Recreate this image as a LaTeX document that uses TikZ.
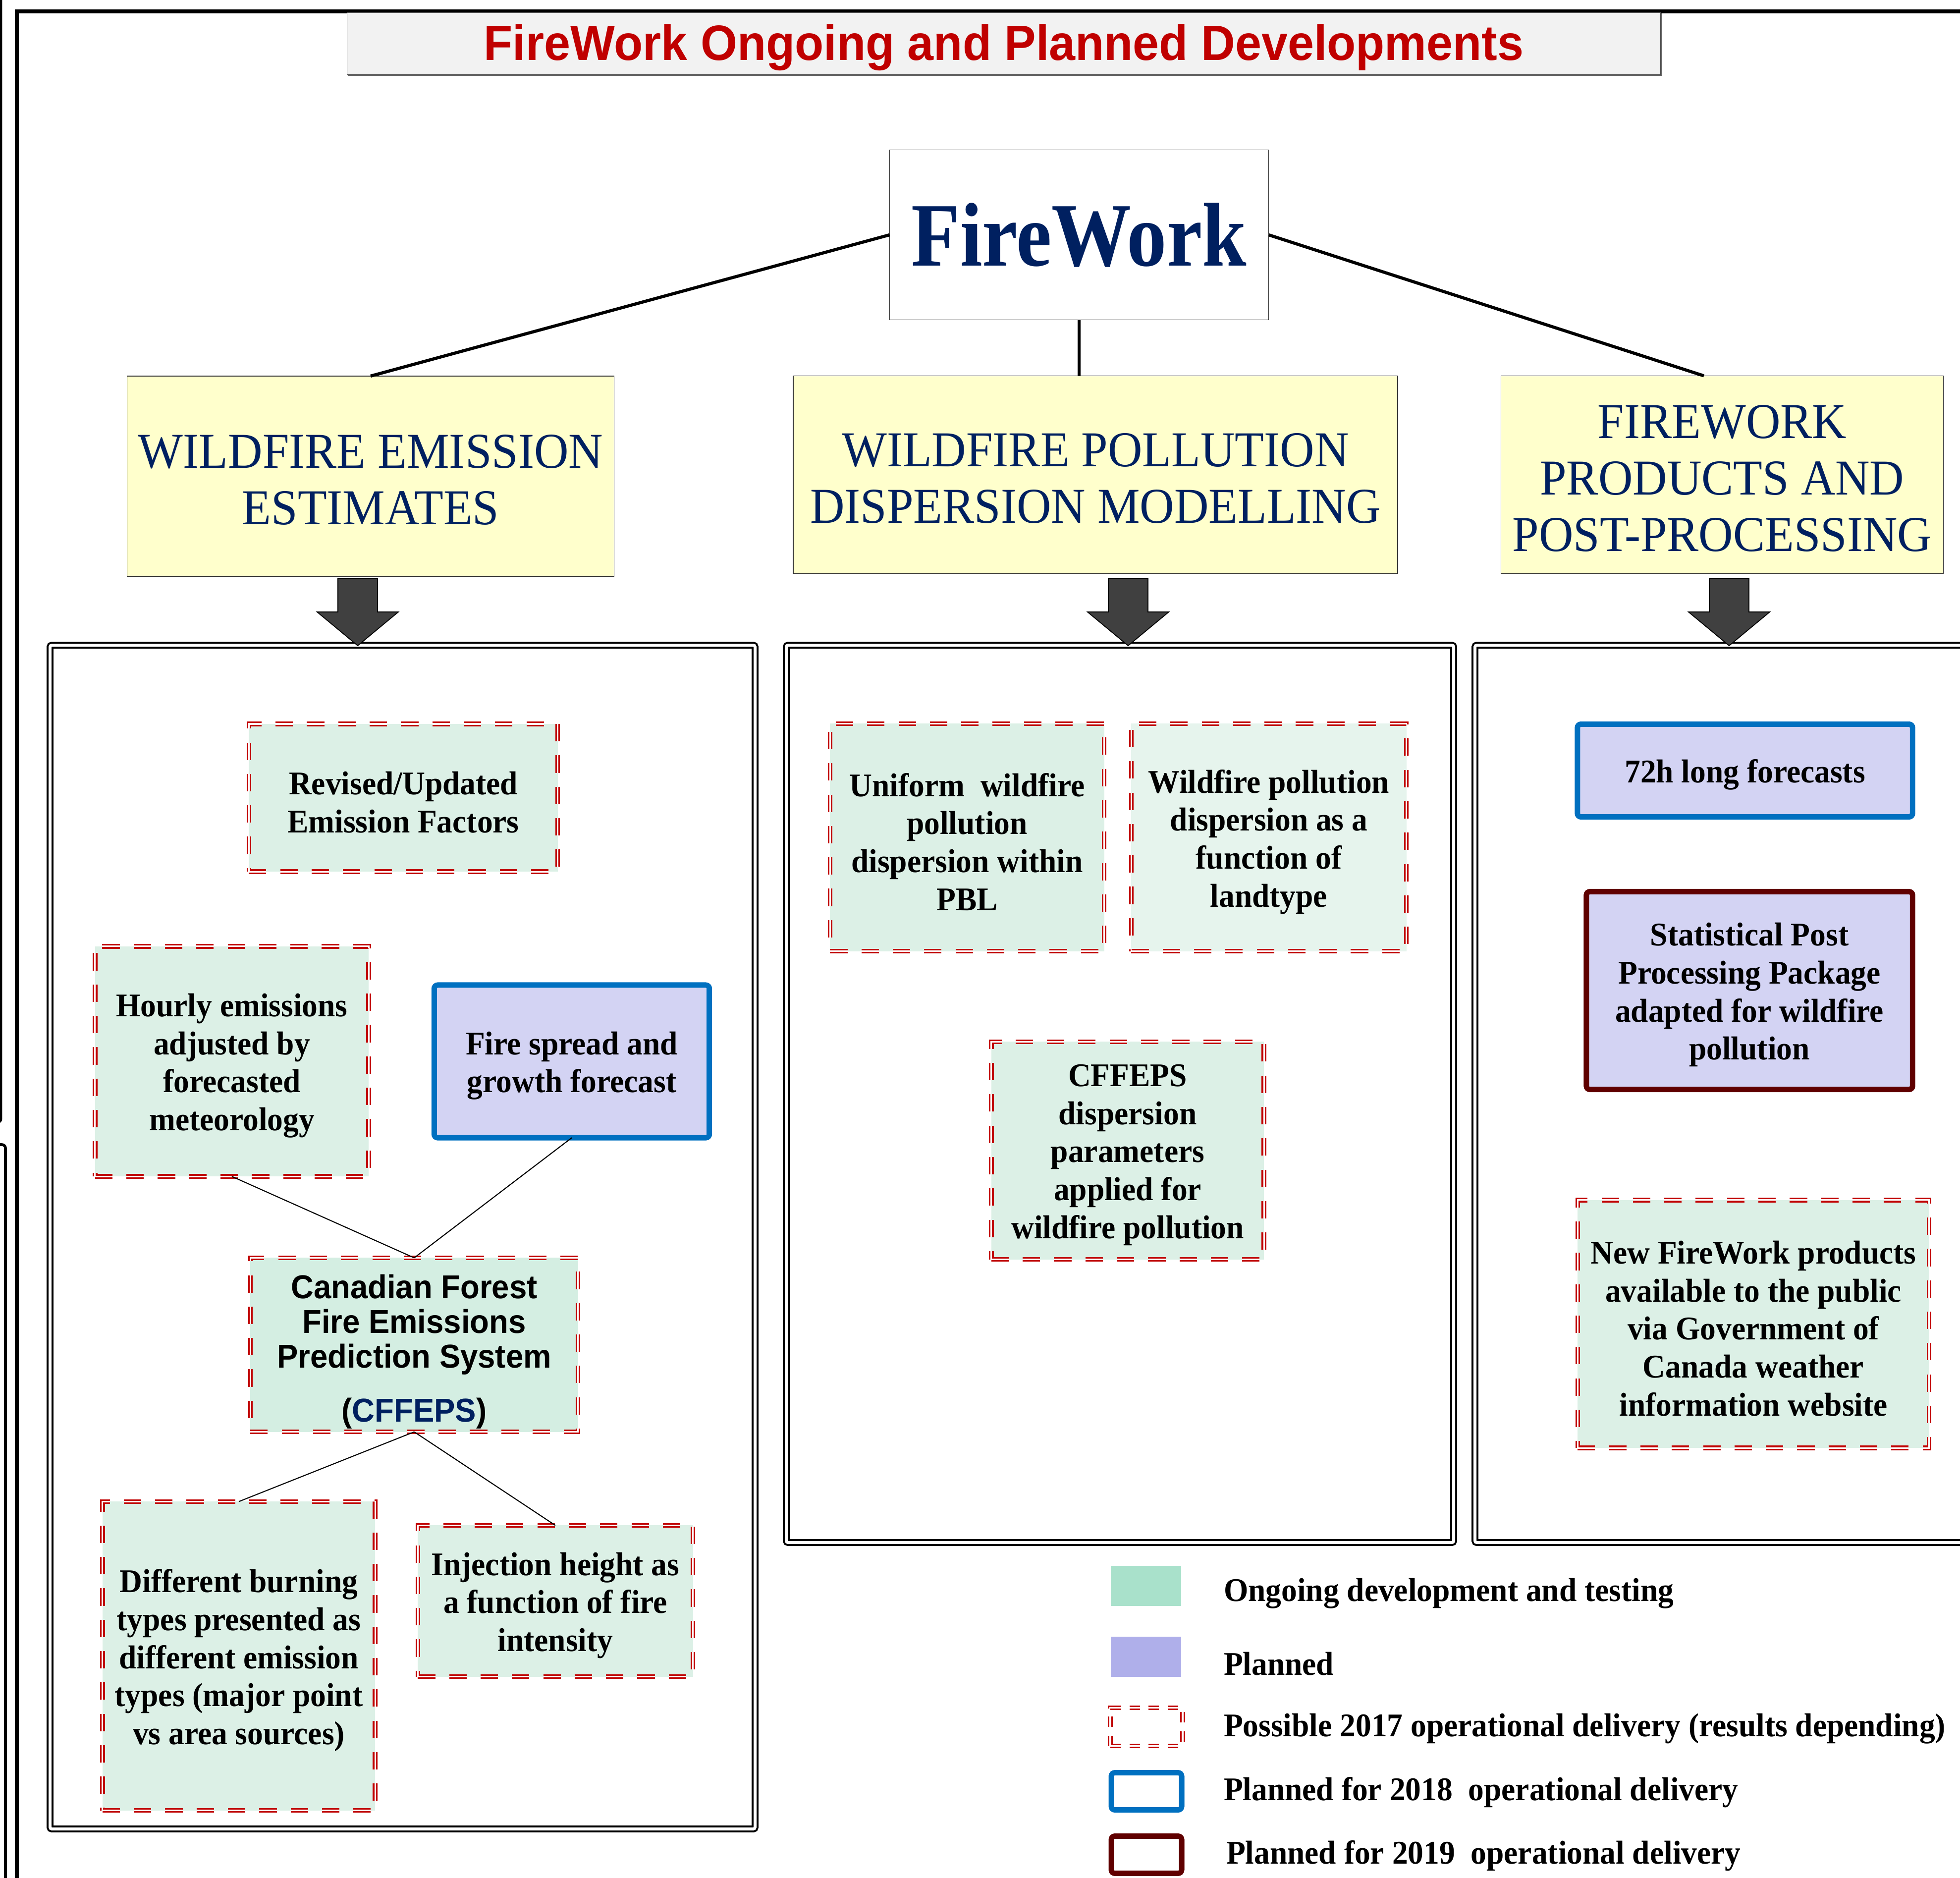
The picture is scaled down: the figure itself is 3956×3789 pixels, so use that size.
\documentclass[tikz,border=0pt]{standalone}
\usepackage{fontspec}
\setmainfont{Liberation Serif}[FakeStretch=0.95]
\setsansfont{Liberation Sans}[FakeStretch=0.95]
\newfontfamily\narrowserif{Liberation Serif}[FakeStretch=0.88]
\usetikzlibrary{shadows}

\definecolor{navy}{HTML}{002060}
\definecolor{firered}{HTML}{C00000}
\definecolor{yellowbg}{HTML}{FFFFCC}
\definecolor{greenbg}{HTML}{DCF0E6}
\definecolor{lavbg}{HTML}{D3D3F3}
\definecolor{keygreen}{HTML}{A9E1CB}
\definecolor{keylav}{HTML}{AFAFEA}
\definecolor{blue18}{HTML}{0070C0}
\definecolor{red19}{HTML}{600000}
\definecolor{arrowgray}{HTML}{404040}

\begin{document}
\begin{tikzpicture}[x=0.01cm, y=-0.01cm,
  every node/.style={align=center, inner sep=0pt, outer sep=0pt},
  lower/.style={execute at begin node={\vbox\bgroup\kern#1\hbox\bgroup},
    execute at end node={\egroup\egroup}},
  titlebox/.style={draw=black!70, fill=black!5, minimum width=26.5cm, minimum height=1.26cm,
    text=firered, font=\sffamily\bfseries\fontsize{28.5}{30}\selectfont, lower=4.3pt,
    drop shadow={shadow xshift=0.6pt, shadow yshift=-0.6pt, fill=black!60, opacity=1}},
  fwbox/.style={draw=black!80, fill=white, minimum width=7.65cm, minimum height=3.43cm,
    text=navy, font=\narrowserif\bfseries\fontsize{52}{58}\selectfont},
  head/.style={draw=black!80, fill=yellowbg, text=navy, lower=4.3pt,
    font=\fontsize{28.8}{32.5}\selectfont},
  trunk/.style={line width=1.8pt},
  twig/.style={line width=0.6pt},
  colbox/.style={double, double distance=1.7pt, line width=1.1pt, rounded corners=1pt},
  ongoing/.style={fill=greenbg, draw=firered, dash pattern=on 10pt off 8pt, double=white,
    double distance=0.9pt, line width=0.9pt, lower=5pt,
    font=\bfseries\fontsize{19}{21.8}\selectfont},
  planned/.style={fill=lavbg, rounded corners=2pt, line width=3.1pt, lower=5pt,
    font=\bfseries\fontsize{19}{21.8}\selectfont},
  keytext/.style={anchor=west, font=\bfseries\fontsize{19}{21.8}\selectfont}]
\useasboundingbox (0,0) rectangle (3956,3789);

% frame
\draw[line width=1.4pt, rounded corners=2pt] (2,-20) -- (2,2265) -- (-30,2265);
\draw[line width=1.6pt, rounded corners=2pt] (-30,2310) -- (11,2310) -- (11,3850);
\draw[line width=2.2pt] (34,3850) -- (34,23) -- (4050,23);

\node[titlebox] (title) at (2026,88) {FireWork Ongoing and Planned Developments};

% top level
\node[fwbox] (fw) at (2178,474) {FireWork};
\node[head, minimum width=9.82cm, minimum height=4.04cm] (emis) at (748,961) {WILDFIRE EMISSION\\ESTIMATES};
\node[head, minimum width=12.19cm, minimum height=3.99cm] (disp) at (2211,958) {WILDFIRE POLLUTION\\DISPERSION MODELLING};
\node[head, minimum width=8.93cm, minimum height=3.99cm] (prod) at (3476,958) {FIREWORK\\PRODUCTS AND\\POST-PROCESSING};

\draw[trunk] (fw.west) -- (emis.north);
\draw[trunk] (fw.south) -- (fw.south |- disp.north);
\draw[trunk] (fw.east) -- ([xshift=-0.37cm]prod.north);

% columns
\draw[colbox] (101,1302) rectangle (1524,3691);
\draw[colbox] (1587,1302) rectangle (2934,3113);
\draw[colbox] (2977,1302) rectangle (4100,3113);

\foreach \ax in {722,2277,3490}
  \draw[fill=arrowgray, line width=0.5pt] (\ax-40,1167) -- (\ax+40,1167) -- (\ax+40,1235)
    -- (\ax+82,1235) -- (\ax,1303) -- (\ax-82,1235) -- (\ax-40,1235) -- cycle;

% emissions column
\node[ongoing, minimum width=6.23cm, minimum height=2.98cm] (factors) at (814,1610) {Revised/Updated\\Emission Factors};
\node[ongoing, minimum width=5.52cm, minimum height=4.64cm] (hourly) at (468,2142) {Hourly emissions\\adjusted by\\forecasted\\meteorology};
\node[planned, draw=blue18, minimum width=5.55cm, minimum height=3.08cm] (spread) at (1154,2142) {Fire spread and\\growth forecast};
\node[ongoing, fill=greenbg!85!keygreen, minimum width=6.61cm, minimum height=3.51cm, lower=2.8pt,
  font=\sffamily\bfseries\fontsize{19}{20}\selectfont] (cffeps) at (836,2714)
  {Canadian Forest\\Fire Emissions\\Prediction System\\[11pt](\textcolor{navy}{CFFEPS})};
\node[ongoing, minimum width=5.50cm, minimum height=6.23cm] (burn) at (482,3342) {Different burning\\types presented as\\different emission\\types (major point\\vs area sources)};
\node[ongoing, minimum width=5.55cm, minimum height=3.05cm] (inject) at (1121,3231) {Injection height as\\a function of fire\\intensity};

\draw[twig] (hourly.south) -- (cffeps.north);
\draw[twig] (spread.south) -- (cffeps.north);
\draw[twig] (cffeps.south) -- (burn.north);
\draw[twig] (cffeps.south) -- (inject.north);

% dispersion column
\node[ongoing, minimum width=5.53cm, minimum height=4.59cm] (uniform) at (1952,1690) {Uniform~ wildfire\\pollution\\dispersion within\\PBL};
\node[ongoing, fill=greenbg!70!white, minimum width=5.55cm, minimum height=4.59cm] (landtype) at (2561,1690) {Wildfire pollution\\dispersion as a\\function of\\landtype};
\node[ongoing, minimum width=5.50cm, minimum height=4.39cm] (params) at (2276,2322) {CFFEPS\\dispersion\\parameters\\applied for\\wildfire pollution};

% products column
\node[planned, draw=blue18, minimum width=6.76cm, minimum height=1.87cm] (longfc) at (3522,1555) {72h long forecasts};
\node[planned, draw=red19, minimum width=6.58cm, minimum height=3.99cm] (postproc) at (3531,1999) {Statistical Post\\Processing Package\\adapted for wildfire\\pollution};
\node[ongoing, minimum width=7.09cm, minimum height=5.00cm] (public) at (3539,2672) {New FireWork products\\available to the public\\via Government of\\Canada weather\\information website};

% legend
\node[fill=keygreen, minimum width=1.41cm, minimum height=0.81cm] (keyongoing) at (2313,3200) {};
\node[keytext] (txtongoing) at (2470,3216) {Ongoing development and testing};
\node[fill=keylav, minimum width=1.41cm, minimum height=0.81cm] (keyplanned) at (2313,3343) {};
\node[keytext] (txtplanned) at (2470,3358) {Planned};
\node[ongoing, fill=white, lower=0pt, dash pattern=on 6pt off 5pt, minimum width=1.46cm, minimum height=0.77cm] (key17) at (2314,3485) {};
\node[keytext] (txt17) at (2470,3489) {Possible 2017 operational delivery (results depending)};
\node[planned, fill=white, lower=0pt, draw=blue18, minimum width=1.42cm, minimum height=0.75cm] (key18) at (2314,3615) {};
\node[keytext] (txt18) at (2470,3617) {Planned for 2018~ operational delivery};
\node[planned, fill=white, lower=0pt, draw=red19, minimum width=1.42cm, minimum height=0.75cm] (key19) at (2314,3743) {};
\node[keytext] (txt19) at (2475,3745) {Planned for 2019~ operational delivery};
\end{tikzpicture}
\end{document}
